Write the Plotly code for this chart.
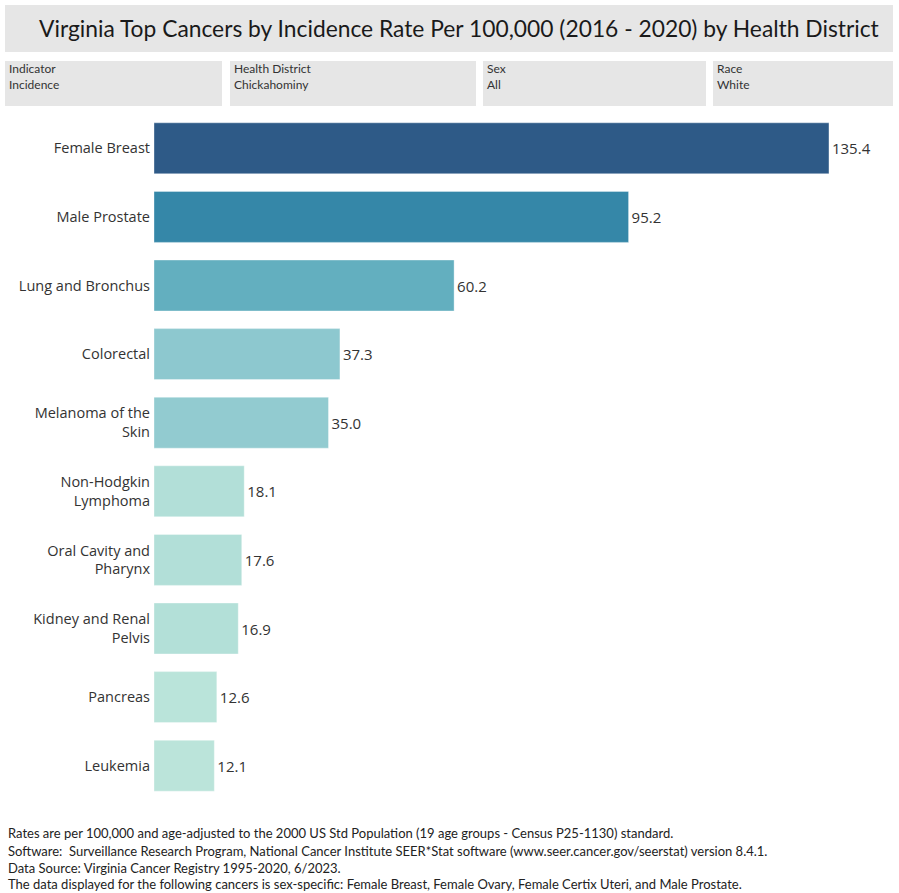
import plotly.graph_objects as go

# ---- data ----
cancers = [
    "Female Breast", "Male Prostate", "Lung and Bronchus", "Colorectal",
    "Melanoma of the<br>Skin", "Non-Hodgkin<br>Lymphoma", "Oral Cavity and<br>Pharynx",
    "Kidney and Renal<br>Pelvis", "Pancreas", "Leukemia",
]
rates = [135.4, 95.2, 60.2, 37.3, 35.0, 18.1, 17.6, 16.9, 12.6, 12.1]
bar_colors = ["#2E5A87", "#3587A8", "#63AFBF", "#8DC8CF", "#92CBD0",
              "#B2DFD8", "#B2DFD8", "#B3E0D8", "#BAE4DA", "#BBE4DA"]

title_text = "Virginia Top Cancers by Incidence Rate Per 100,000 (2016 - 2020) by Health District"
filter_names = ["Indicator", "Health District", "Sex", "Race"]
filter_values = ["Incidence", "Chickahominy", "All", "White"]
footnotes = [
    "Rates are per 100,000 and age-adjusted to the 2000 US Std Population (19 age groups - Census P25-1130) standard.",
    "Software:  Surveillance Research Program, National Cancer Institute SEER*Stat software (www.seer.cancer.gov/seerstat) version 8.4.1.",
    "Data Source: Virginia Cancer Registry 1995-2020, 6/2023.",
    "The data displayed for the following cancers is sex-specific: Female Breast, Female Ovary, Female Certix Uteri, and Male Prostate.",
]

# ---- layout geometry (pixels) ----
FW, FH = 899, 893
ML, MR, MT, MB = 154, 22, 114, 93
PW, PH = FW - ML - MR, FH - MT - MB


def px(x):
    return (x - ML) / PW


def py(y):
    return (MT + PH - y) / PH


FONT = "Open Sans"
HFONT = "Lato"

fig = go.Figure()
fig.add_trace(go.Bar(
    x=rates, y=cancers, orientation="h",
    marker=dict(color=bar_colors, line=dict(color="rgba(255,255,255,0.35)", width=1)),
    text=rates, texttemplate="%{x:.1f}", textposition="outside",
    textfont=dict(family=FONT, size=15, color="#333333"),
    cliponaxis=False, hoverinfo="skip",
))

shapes = []
annotations = []
# title box
shapes.append(dict(type="rect", xref="paper", yref="paper",
                   x0=px(5), x1=px(893), y0=py(52), y1=py(5),
                   fillcolor="#E6E6E6", line=dict(width=0), layer="below"))
annotations.append(dict(text=title_text, xref="paper", yref="paper",
                        x=px(459), y=py(28), xanchor="center", yanchor="middle",
                        showarrow=False, font=dict(family=HFONT, size=22.8, color="#1a1a1a")))
# filter boxes
boxes = [(5, 222), (230, 476), (483, 706), (713, 893)]
for (x0, x1), name, val in zip(boxes, filter_names, filter_values):
    shapes.append(dict(type="rect", xref="paper", yref="paper",
                       x0=px(x0), x1=px(x1), y0=py(106), y1=py(61),
                       fillcolor="#E6E6E6", line=dict(width=0), layer="below"))
    annotations.append(dict(text=name + "<br>" + val, xref="paper", yref="paper",
                            x=px(x0 + 2), y=py(77), xanchor="left", yanchor="middle",
                            align="left", showarrow=False,
                            font=dict(family=HFONT, size=12, color="#333333")))
# footnotes
for t, yy in zip(footnotes, (833, 851, 868, 884)):
    annotations.append(dict(text=t, xref="paper", yref="paper",
                            x=px(6), y=py(yy), xanchor="left", yanchor="middle",
                            showarrow=False, font=dict(family=HFONT, size=13, color="#222222")))

fig.update_layout(
    width=FW, height=FH,
    margin=dict(l=ML, r=MR, t=MT, b=MB, autoexpand=False),
    paper_bgcolor="white", plot_bgcolor="white",
    bargap=0.257, showlegend=False,
    shapes=shapes, annotations=annotations,
    xaxis=dict(range=[0, PW / 4.985], showgrid=False, zeroline=False,
               showticklabels=False, showline=False, fixedrange=True),
    yaxis=dict(autorange="reversed", showgrid=False, zeroline=False, showline=False,
               ticks="", ticklabelstandoff=3,
               tickfont=dict(family=FONT, size=14.5, color="#333333"), fixedrange=True),
)

fig.write_html("out.html", config={"displayModeBar": False},
               post_script="document.body.style.margin='0';")
